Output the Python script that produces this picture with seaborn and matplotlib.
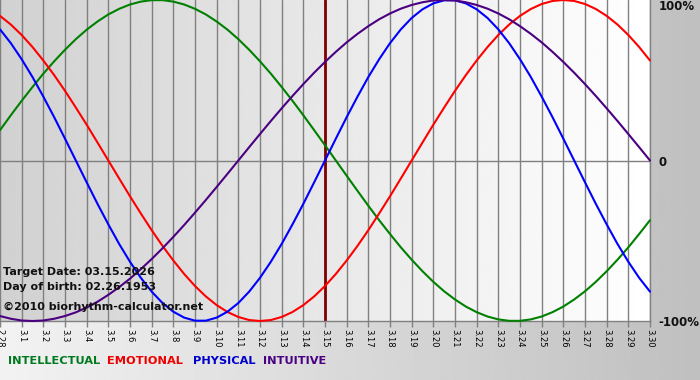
import numpy as np
import pandas as pd
import matplotlib
matplotlib.use("Agg")
import matplotlib.pyplot as plt
import seaborn as sns

# ---- data ----
days = list(range(-15, 16))                       # tick days relative to target (3.15)
sample_days = [h / 2 for h in range(-30, 31)]     # half-day sample positions
day_labels = ["2.28"] + [f"3.{i}" for i in range(1, 31)]
target_day = 0

intellectual = [0.189, 0.282, 0.372, 0.458, 0.541, 0.618, 0.690, 0.756, 0.815, 0.866,
                0.910, 0.945, 0.972, 0.990, 0.999, 0.999, 0.990, 0.972, 0.945, 0.910,
                0.866, 0.815, 0.756, 0.690, 0.618, 0.541, 0.458, 0.372, 0.282, 0.189,
                0.095, 0.0, -0.095, -0.189, -0.282, -0.372, -0.458, -0.541, -0.618, -0.690,
                -0.756, -0.815, -0.866, -0.910, -0.945, -0.972, -0.990, -0.999, -0.999, -0.990,
                -0.972, -0.945, -0.910, -0.866, -0.815, -0.756, -0.690, -0.618, -0.541, -0.458,
                -0.372]
emotional = [0.901, 0.847, 0.782, 0.707, 0.623, 0.532, 0.434, 0.330, 0.223, 0.112,
             0.0, -0.112, -0.223, -0.330, -0.434, -0.532, -0.623, -0.707, -0.782, -0.847,
             -0.901, -0.944, -0.975, -0.994, -1.0, -0.994, -0.975, -0.944, -0.901, -0.847,
             -0.782, -0.707, -0.623, -0.532, -0.434, -0.330, -0.223, -0.112, 0.0, 0.112,
             0.223, 0.330, 0.434, 0.532, 0.623, 0.707, 0.782, 0.847, 0.901, 0.944,
             0.975, 0.994, 1.0, 0.994, 0.975, 0.944, 0.901, 0.847, 0.782, 0.707,
             0.623]
physical = [0.817, 0.731, 0.631, 0.520, 0.398, 0.270, 0.136, 0.0, -0.136, -0.270,
            -0.398, -0.520, -0.631, -0.731, -0.817, -0.888, -0.942, -0.979, -0.998, -0.998,
            -0.979, -0.942, -0.888, -0.817, -0.731, -0.631, -0.520, -0.398, -0.270, -0.136,
            0.0, 0.136, 0.270, 0.398, 0.520, 0.631, 0.731, 0.817, 0.888, 0.942,
            0.979, 0.998, 0.998, 0.979, 0.942, 0.888, 0.817, 0.731, 0.631, 0.520,
            0.398, 0.270, 0.136, 0.0, -0.136, -0.270, -0.398, -0.520, -0.631, -0.731,
            -0.817]
intuitive = [-0.969, -0.986, -0.997, -1.0, -0.997, -0.986, -0.969, -0.946, -0.916, -0.880,
             -0.837, -0.789, -0.736, -0.677, -0.614, -0.547, -0.476, -0.402, -0.325, -0.246,
             -0.165, -0.083, 0.0, 0.083, 0.165, 0.246, 0.325, 0.402, 0.476, 0.547,
             0.614, 0.677, 0.736, 0.789, 0.837, 0.880, 0.916, 0.946, 0.969, 0.986,
             0.997, 1.0, 0.997, 0.986, 0.969, 0.946, 0.916, 0.880, 0.837, 0.789,
             0.736, 0.677, 0.614, 0.547, 0.476, 0.402, 0.325, 0.246, 0.165, 0.083,
             0.0]

series_names = ["INTELLECTUAL", "EMOTIONAL", "PHYSICAL", "INTUITIVE"]
colors = {"INTELLECTUAL": "#008000", "EMOTIONAL": "#ff0000",
          "PHYSICAL": "#0000ff", "INTUITIVE": "#4b0082"}
legend_colors = {"INTELLECTUAL": "#007a1e", "EMOTIONAL": "#ee0000",
                 "PHYSICAL": "#0000cc", "INTUITIVE": "#4b0082"}
y_ticks = [-1, 0, 1]
y_labels = ["-100%", "0", "100%"]
info_lines = ["Target Date: 03.15.2026", "Day of birth: 02.26.1953",
              "\u00a92010 biorhythm-calculator.net"]

df = pd.DataFrame({
    "day": sample_days * 4,
    "value": intellectual + emotional + physical + intuitive,
    "series": sum([[n] * len(sample_days) for n in series_names], []),
})

sns.set_theme(style="white")
plt.rcParams['font.family'] = ['DejaVu Sans']

W, H = 700, 380
fig = plt.figure(figsize=(7, 3.8), dpi=100)

# figure background gradient
bg = fig.add_axes([0, 0, 1, 1], zorder=-10)
bg.imshow(np.linspace(0.95, 0.75, 256)[None, :], cmap="gray", vmin=0, vmax=1,
          aspect="auto", extent=[0, 1, 0, 1])
bg.axis("off")

ax = fig.add_axes([0, 59 / H, 650 / W, 321 / H])
ax.set_facecolor("none")
ax.imshow(np.linspace(0.82, 1.0, 256)[None, :], cmap="gray", vmin=0, vmax=1,
          aspect="auto", extent=[days[0], days[-1], -1, 1], zorder=0)

sns.lineplot(data=df, x="day", y="value", hue="series", palette=colors,
             hue_order=series_names, ax=ax, legend=False, linewidth=1.5, zorder=4)
for ln in ax.get_lines():
    ln.set_clip_on(False)

ax.set_xlim(days[0], days[-1])
ax.set_ylim(-1, 1)
ax.set_xticks(days)
ax.set_xticklabels(day_labels, rotation=-90, fontsize=6, color="black")
ax.tick_params(axis="x", length=4, width=1, color="#808080", pad=1.5, bottom=True)
ax.grid(axis="x", color="#808080", linewidth=1, zorder=1)
ax.axhline(0, color="#808080", linewidth=1, zorder=1)
ax.axvline(target_day, color="#800000", linewidth=2, zorder=2)

ax.yaxis.tick_right()
ax.set_yticks(y_ticks)
ax.set_yticklabels(y_labels, fontsize=8.5, fontweight="bold", color="#111111")
ax.get_yticklabels()[-1].set_va("top")
ax.tick_params(axis="y", length=0, pad=6)
ax.set_xlabel("")
ax.set_ylabel("")
for s in ["left", "top"]:
    ax.spines[s].set_visible(False)
for s in ["right", "bottom"]:
    ax.spines[s].set_color("#808080")
    ax.spines[s].set_linewidth(1)

# info text
for t, yy in zip(info_lines, [272, 287, 307]):
    fig.text(3 / W, 1 - yy / H, t, fontsize=8, fontweight="bold",
             color="#111111", va="center", ha="left", zorder=10)

# legend words
for name, xx in zip(series_names, [8, 107, 193, 263]):
    fig.text(xx / W, 1 - 361 / H, name, fontsize=8.2, fontweight="bold",
             color=legend_colors[name], va="center", ha="left")

fig.savefig("out.png", dpi=100)
